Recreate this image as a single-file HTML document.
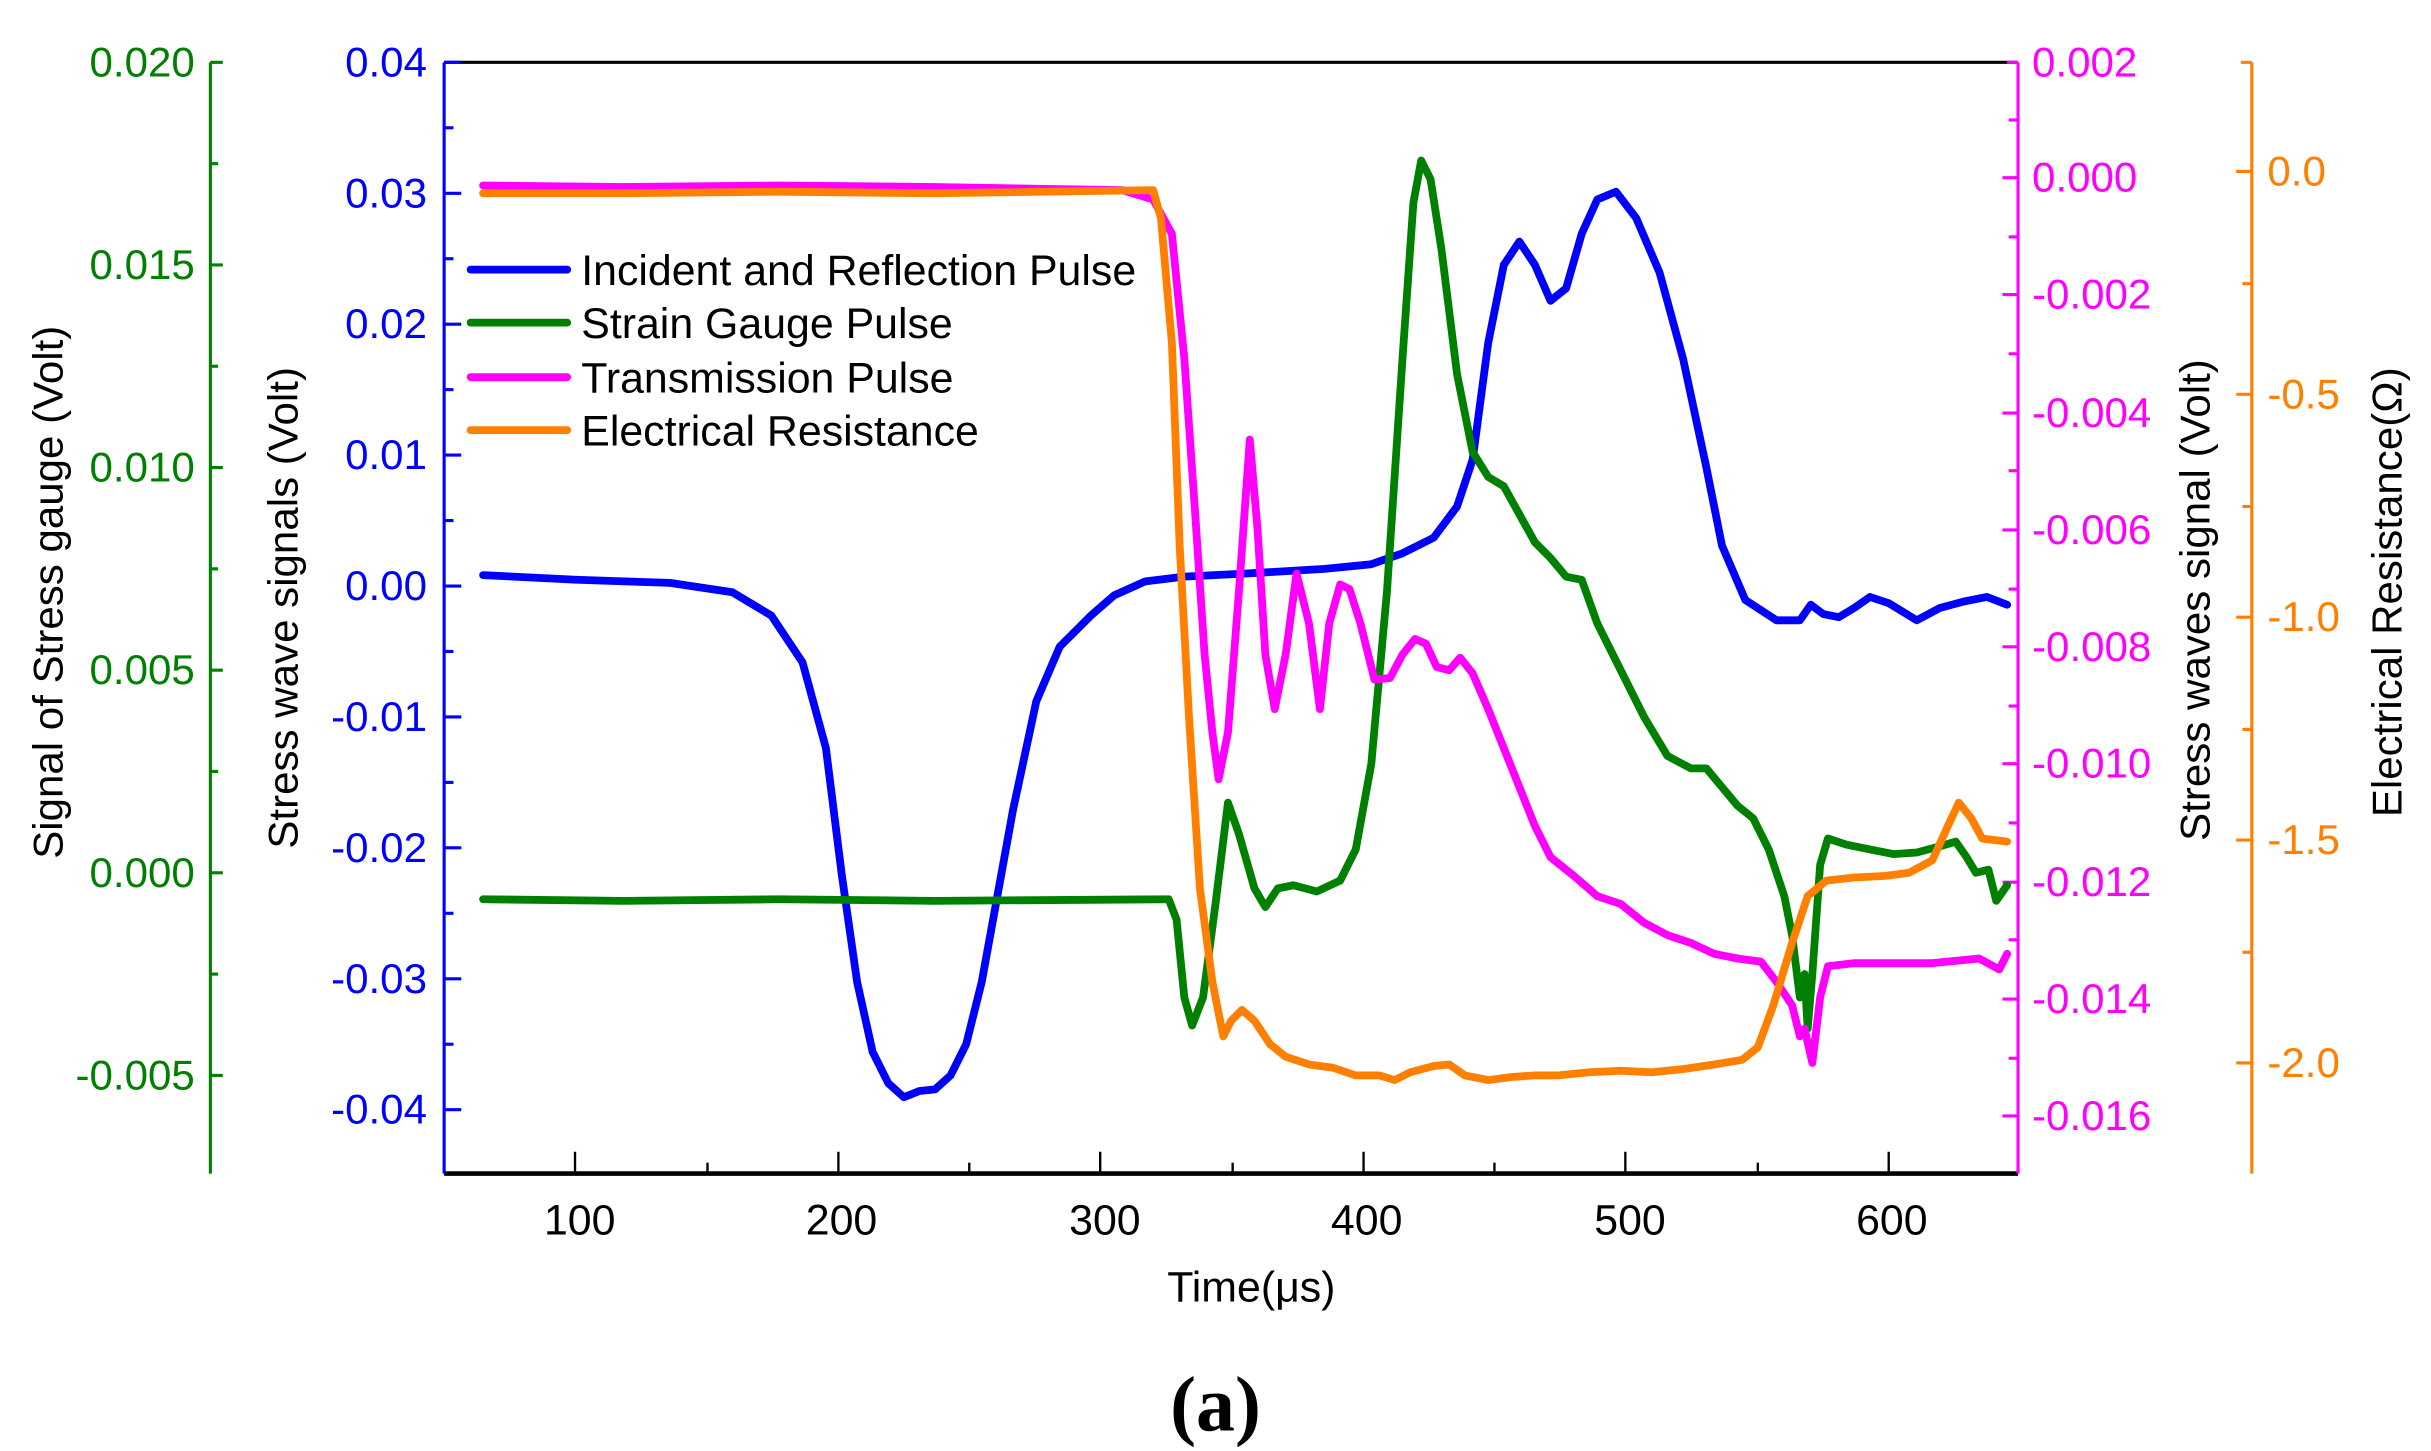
<!DOCTYPE html>
<html><head><meta charset="utf-8"><style>
html,body{margin:0;padding:0;background:#fff;}
svg{display:block;}
text{font-family:"Liberation Sans",sans-serif;}
</style></head><body>
<svg width="2431" height="1451" viewBox="0 0 1560 931" preserveAspectRatio="none" xmlns="http://www.w3.org/2000/svg">
<line x1="285" y1="40" x2="1295" y2="40" stroke="#000" stroke-width="2"/>
<line x1="285" y1="753" x2="1295" y2="753" stroke="#000" stroke-width="3"/>
<g stroke="#000" stroke-width="1.5">
<line x1="369" y1="753" x2="369" y2="739"/><line x1="538" y1="753" x2="538" y2="739"/><line x1="706" y1="753" x2="706" y2="739"/><line x1="875" y1="753" x2="875" y2="739"/><line x1="1043" y1="753" x2="1043" y2="739"/><line x1="1212" y1="753" x2="1212" y2="739"/>
<line x1="454" y1="753" x2="454" y2="746"/><line x1="622" y1="753" x2="622" y2="746"/><line x1="791" y1="753" x2="791" y2="746"/><line x1="959" y1="753" x2="959" y2="746"/><line x1="1128" y1="753" x2="1128" y2="746"/>
</g>
<g font-size="27.5" text-anchor="middle" fill="#000">
<text x="372" y="792">100</text><text x="540" y="792">200</text><text x="709" y="792">300</text><text x="877" y="792">400</text><text x="1046" y="792">500</text><text x="1214" y="792">600</text>
<text x="803" y="835">Time(μs)</text>
</g>
<text x="780" y="918" text-anchor="middle" font-size="50" font-weight="bold" style="font-family:'Liberation Serif',serif">(a)</text>

<g stroke="#0000ff" stroke-width="2">
<line x1="285" y1="40" x2="285" y2="753"/>
<line x1="285" y1="40" x2="296" y2="40"/>
<line x1="285" y1="124" x2="296" y2="124"/><line x1="285" y1="208" x2="296" y2="208"/><line x1="285" y1="292" x2="296" y2="292"/><line x1="285" y1="376" x2="296" y2="376"/><line x1="285" y1="460" x2="296" y2="460"/><line x1="285" y1="544" x2="296" y2="544"/><line x1="285" y1="628" x2="296" y2="628"/><line x1="285" y1="712" x2="296" y2="712"/>
<line x1="285" y1="82" x2="291" y2="82"/><line x1="285" y1="166" x2="291" y2="166"/><line x1="285" y1="250" x2="291" y2="250"/><line x1="285" y1="334" x2="291" y2="334"/><line x1="285" y1="418" x2="291" y2="418"/><line x1="285" y1="502" x2="291" y2="502"/><line x1="285" y1="586" x2="291" y2="586"/><line x1="285" y1="670" x2="291" y2="670"/>
</g>
<g font-size="27" text-anchor="end" fill="#0000ff">
<text x="274" y="49">0.04</text><text x="274" y="133">0.03</text><text x="274" y="217">0.02</text><text x="274" y="301">0.01</text><text x="274" y="385">0.00</text><text x="274" y="469">-0.01</text><text x="274" y="553">-0.02</text><text x="274" y="637">-0.03</text><text x="274" y="721">-0.04</text>
</g>
<text transform="translate(191,390) rotate(-90)" text-anchor="middle" font-size="27">Stress wave signals (Volt)</text>

<g stroke="#008000" stroke-width="2">
<line x1="135" y1="40" x2="135" y2="753"/>
<line x1="135" y1="40" x2="143" y2="40"/><line x1="135" y1="170" x2="143" y2="170"/><line x1="135" y1="300" x2="143" y2="300"/><line x1="135" y1="430" x2="143" y2="430"/><line x1="135" y1="560" x2="143" y2="560"/><line x1="135" y1="690" x2="143" y2="690"/>
<line x1="135" y1="105" x2="140" y2="105"/><line x1="135" y1="235" x2="140" y2="235"/><line x1="135" y1="365" x2="140" y2="365"/><line x1="135" y1="495" x2="140" y2="495"/><line x1="135" y1="625" x2="140" y2="625"/>
</g>
<g font-size="27" text-anchor="end" fill="#008000">
<text x="125" y="49">0.020</text><text x="125" y="179">0.015</text><text x="125" y="309">0.010</text><text x="125" y="439">0.005</text><text x="125" y="569">0.000</text><text x="125" y="699">-0.005</text>
</g>
<text transform="translate(40,380) rotate(-90)" text-anchor="middle" font-size="27">Signal of Stress gauge (Volt)</text>

<g stroke="#ff00ff" stroke-width="2">
<line x1="1295" y1="40" x2="1295" y2="753"/>
<line x1="1288" y1="40" x2="1295" y2="40"/>
<line x1="1285" y1="114" x2="1295" y2="114"/><line x1="1285" y1="189" x2="1295" y2="189"/><line x1="1285" y1="265" x2="1295" y2="265"/><line x1="1285" y1="340" x2="1295" y2="340"/><line x1="1285" y1="415" x2="1295" y2="415"/><line x1="1285" y1="490" x2="1295" y2="490"/><line x1="1285" y1="566" x2="1295" y2="566"/><line x1="1285" y1="641" x2="1295" y2="641"/><line x1="1285" y1="716" x2="1295" y2="716"/>
<line x1="1289" y1="77" x2="1295" y2="77"/><line x1="1289" y1="152" x2="1295" y2="152"/><line x1="1289" y1="227" x2="1295" y2="227"/><line x1="1289" y1="302" x2="1295" y2="302"/><line x1="1289" y1="378" x2="1295" y2="378"/><line x1="1289" y1="453" x2="1295" y2="453"/><line x1="1289" y1="528" x2="1295" y2="528"/><line x1="1289" y1="603" x2="1295" y2="603"/><line x1="1289" y1="679" x2="1295" y2="679"/>
</g>
<g font-size="27" fill="#ff00ff">
<text x="1304" y="49">0.002</text><text x="1304" y="123">0.000</text><text x="1304" y="198">-0.002</text><text x="1304" y="274">-0.004</text><text x="1304" y="349">-0.006</text><text x="1304" y="424">-0.008</text><text x="1304" y="499">-0.010</text><text x="1304" y="575">-0.012</text><text x="1304" y="650">-0.014</text><text x="1304" y="725">-0.016</text>
</g>
<text transform="translate(1418,385) rotate(-90)" text-anchor="middle" font-size="27">Stress waves signal (Volt)</text>

<g stroke="#ff8000" stroke-width="2">
<line x1="1445" y1="40" x2="1445" y2="753"/>
<line x1="1438" y1="40" x2="1445" y2="40"/>
<line x1="1435" y1="110" x2="1445" y2="110"/><line x1="1435" y1="253" x2="1445" y2="253"/><line x1="1435" y1="396" x2="1445" y2="396"/><line x1="1435" y1="539" x2="1445" y2="539"/><line x1="1435" y1="682" x2="1445" y2="682"/>
<line x1="1439" y1="182" x2="1445" y2="182"/><line x1="1439" y1="325" x2="1445" y2="325"/><line x1="1439" y1="468" x2="1445" y2="468"/><line x1="1439" y1="611" x2="1445" y2="611"/>
</g>
<g font-size="27" fill="#ff8000">
<text x="1455" y="119">0.0</text><text x="1455" y="262">-0.5</text><text x="1455" y="405">-1.0</text><text x="1455" y="548">-1.5</text><text x="1455" y="691">-2.0</text>
</g>
<text transform="translate(1541,380) rotate(-90)" text-anchor="middle" font-size="27">Electrical Resistance(Ω)</text>

<g fill="none" stroke-width="5" stroke-linejoin="round" stroke-linecap="round">
<path stroke="#0000ff" d="M310,369 L370,372 L430,374 L470,380 L495,395 L515,425 L530,480 L540,560 L550,630 L560,675 L570,695 L580,704 L590,700 L600,699 L610,690 L620,670 L630,630 L640,575 L650,520 L665,450 L680,415 L690,405 L700,395 L715,382 L735,373 L760,370 L800,368 L850,365 L880,362 L900,355 L920,345 L935,325 L945,295 L955,220 L965,170 L975,155 L985,170 L995,193 L1005,185 L1015,150 L1025,128 L1037,123 L1050,140 L1065,175 L1080,230 L1095,300 L1105,350 L1120,385 L1140,398 L1155,398 L1162,388 L1170,394 L1180,396 L1190,390 L1200,383 L1212,387 L1230,398 L1245,390 L1260,386 L1275,383 L1288,388"/>
<path stroke="#008000" d="M310,577 L400,578 L500,577 L600,578 L750,577 L755,590 L760,640 L765,658 L772,640 L780,580 L788,515 L795,535 L805,570 L812,582 L820,570 L830,568 L845,572 L860,565 L870,545 L880,490 L890,380 L900,230 L907,130 L912,103 L918,115 L925,160 L935,240 L945,290 L955,306 L965,312 L975,330 L985,348 L995,358 L1005,370 L1015,372 L1025,400 L1040,430 L1055,460 L1070,485 L1085,493 L1095,493 L1105,505 L1115,517 L1125,525 L1135,545 L1145,575 L1150,600 L1155,640 L1158,625 L1160,660 L1163,625 L1168,555 L1173,538 L1185,542 L1200,545 L1215,548 L1230,547 L1245,543 L1255,540 L1262,550 L1268,560 L1276,558 L1281,578 L1288,568"/>
<path stroke="#ff00ff" d="M310,119 L400,120 L500,119 L600,120 L720,122 L740,128 L752,150 L760,230 L767,330 L773,420 L778,470 L782,500 L788,470 L795,380 L802,282 L807,340 L812,420 L818,455 L825,420 L832,368 L840,400 L847,455 L853,400 L860,375 L866,378 L873,400 L882,436 L892,435 L900,420 L908,410 L915,413 L922,428 L930,430 L937,422 L945,432 L955,455 L965,480 L975,505 L985,530 L995,550 L1010,562 L1025,575 L1040,580 L1055,592 L1070,600 L1085,605 L1100,612 L1115,615 L1130,617 L1140,630 L1150,645 L1155,665 L1158,660 L1163,682 L1168,640 L1173,620 L1190,618 L1210,618 L1240,618 L1270,615 L1283,622 L1288,612"/>
<path stroke="#ff8000" d="M310,124 L400,124 L500,123 L600,124 L740,122 L745,140 L752,220 L757,350 L763,460 L770,570 L778,630 L785,665 L790,655 L797,648 L805,655 L815,670 L825,678 L840,683 L855,685 L870,690 L885,690 L895,693 L905,688 L920,684 L930,683 L940,690 L955,693 L970,691 L985,690 L1000,690 L1020,688 L1040,687 L1060,688 L1080,686 L1100,683 L1118,680 L1128,672 L1138,645 L1150,605 L1160,575 L1172,565 L1190,563 L1210,562 L1225,560 L1240,552 L1250,530 L1257,515 L1265,525 L1272,538 L1288,540"/>
</g>

<g stroke-width="5" stroke-linecap="round">
<line x1="302" y1="173" x2="364" y2="173" stroke="#0000ff"/>
<line x1="302" y1="207" x2="364" y2="207" stroke="#008000"/>
<line x1="302" y1="242" x2="364" y2="242" stroke="#ff00ff"/>
<line x1="302" y1="276" x2="364" y2="276" stroke="#ff8000"/>
</g>
<g font-size="27.5" fill="#000">
<text x="373" y="183">Incident and Reflection Pulse</text>
<text x="373" y="217">Strain Gauge Pulse</text>
<text x="373" y="252">Transmission Pulse</text>
<text x="373" y="286">Electrical Resistance</text>
</g>
</svg>
</body></html>
